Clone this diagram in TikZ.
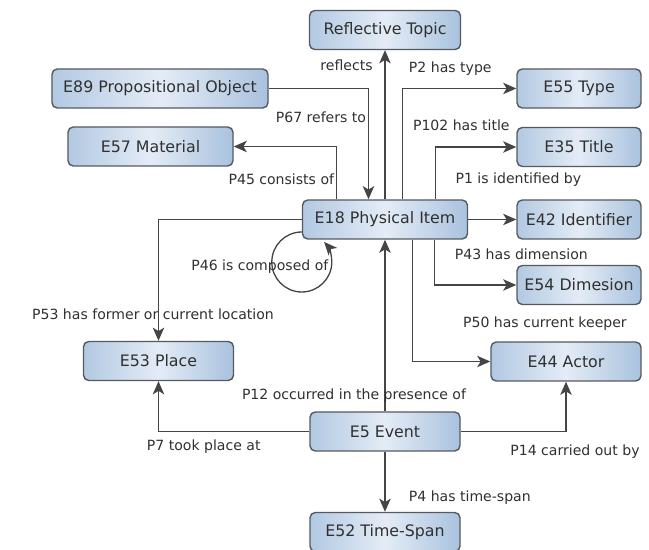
\documentclass[tikz,border=0pt]{standalone}
\usepackage{fontspec}
\setmainfont{DejaVu Sans}
\usepackage{tikz}
\usetikzlibrary{arrows.meta}
\usetikzlibrary{positioning}

\definecolor{boxedge}{HTML}{555A60}
\definecolor{boxleft}{HTML}{B2C9E2}
\definecolor{boxmid}{HTML}{E4ECF6}
\definecolor{boxright}{HTML}{A9C2DE}
\definecolor{inkgray}{HTML}{303030}
\definecolor{linegray}{HTML}{454545}

\tikzset{
    entity/.style={shape=rectangle, rounded corners=3pt, draw=boxedge, line width=0.8pt,
        left color=boxleft, right color=boxright, middle color=boxmid,
        minimum height=0.78cm, text=inkgray, font=\fontsize{9}{11}\selectfont},
    lbl/.style={text=inkgray, inner sep=1pt, font=\fontsize{8}{10}\selectfont},
}

\begin{document}
\begin{tikzpicture}[thick, line width=0.75pt, >={Stealth[length=7.5pt,width=6.5pt,inset=2pt]}]
        \useasboundingbox (0,0) rectangle (12.98,11);

        % entities
        \node (topic) at (7.7,10.4) [entity, minimum width=3.02cm] {Reflective Topic};
        \node (propobj) at (3.2,9.23) [entity, minimum width=4.32cm] {E89 Propositional Object};
        \node (type) at (11.58,9.23) [entity, minimum width=2.48cm] {E55 Type};
        \node (material) at (3.01,8.07) [entity, minimum width=3.3cm] {E57 Material};
        \node (title) at (11.58,8.06) [entity, minimum width=2.48cm] {E35 Title};
        \node (item) at (7.7,6.61) [entity, minimum width=3.3cm] {E18 Physical Item};
        \node (identifier) at (11.58,6.61) [entity, minimum width=2.48cm] {E42 Identifier};
        \node (dimension) at (11.58,5.3) [entity, minimum width=2.48cm] {E54 Dimesion};
        \node (place) at (3.17,3.78) [entity, minimum width=3cm] {E53 Place};
        \node (actor) at (11.32,3.77) [entity, minimum width=3cm] {E44 Actor};
        \node (event) at (7.7,2.37) [entity, minimum width=3cm] {E5 Event};
        \node (timespan) at (7.7,0.36) [entity, minimum width=3cm] {E52 Time-Span};

        % properties of the physical item
        \draw[->, linegray] (item) -- (topic) node[lbl, pos=0.9, left=0.2cm] {reflects};
        \draw[->, linegray] (propobj) -| ([xshift=-0.33cm]item.north) node[lbl, pos=0.63, anchor=east] {P67 refers to};
        \draw[->, linegray] ([xshift=-0.97cm]item.north) |- (material) node[lbl, pos=0.19, anchor=east] {P45 consists of};
        \draw[->, linegray] ([xshift=0.35cm]item.north) |- (type) node[lbl, pos=0.71, yshift=0.39cm] {P2 has type};
        \draw[->, linegray] ([xshift=1.01cm]item.north) |- (title) node[lbl, pos=0.66, yshift=0.44cm] {P102 has title};
        \draw[->, linegray] (item) -- (identifier) node[lbl, pos=0, anchor=west, xshift=-0.3cm, yshift=0.79cm] {P1 is identified by};
        \draw[->, linegray] ([xshift=0.99cm]item.south) |- (dimension) node[lbl, pos=0.61, anchor=west, yshift=0.62cm] {P43 has dimension};
        \draw[->, linegray] ([xshift=0.55cm]item.south) |- (actor) node[lbl, pos=0.81, anchor=west, yshift=0.76cm] {P50 has current keeper};
        \draw[->, linegray] (item) -| (place) node[lbl, pos=0.89, xshift=-0.11cm] {P53 has former or current location};

        % self loop
        \draw[->, linegray] ([yshift=-0.25cm]item.west) arc[start angle=90, end angle=402, radius=0.6cm];
        \node[lbl, anchor=east] (composed) at ([xshift=0.58cm, yshift=-0.95cm]item.west) {P46 is composed of};

        % properties of the event
        \draw[->, linegray] (event) -- (item) node[lbl, pos=0.09, xshift=-0.62cm] {P12 occurred in the presence of};
        \draw[->, linegray] (event) -| (place) node[lbl, pos=0.35, yshift=-0.3cm] {P7 took place at};
        \draw[->, linegray] (event) -| (actor) node[lbl, pos=0.5, xshift=0.18cm, yshift=-0.4cm] {P14 carried out by};
        \draw[->, linegray] (event) -- (timespan) node[lbl, pos=0.76, anchor=west, xshift=0.43cm] {P4 has time-span};
    \end{tikzpicture}
\end{document}
